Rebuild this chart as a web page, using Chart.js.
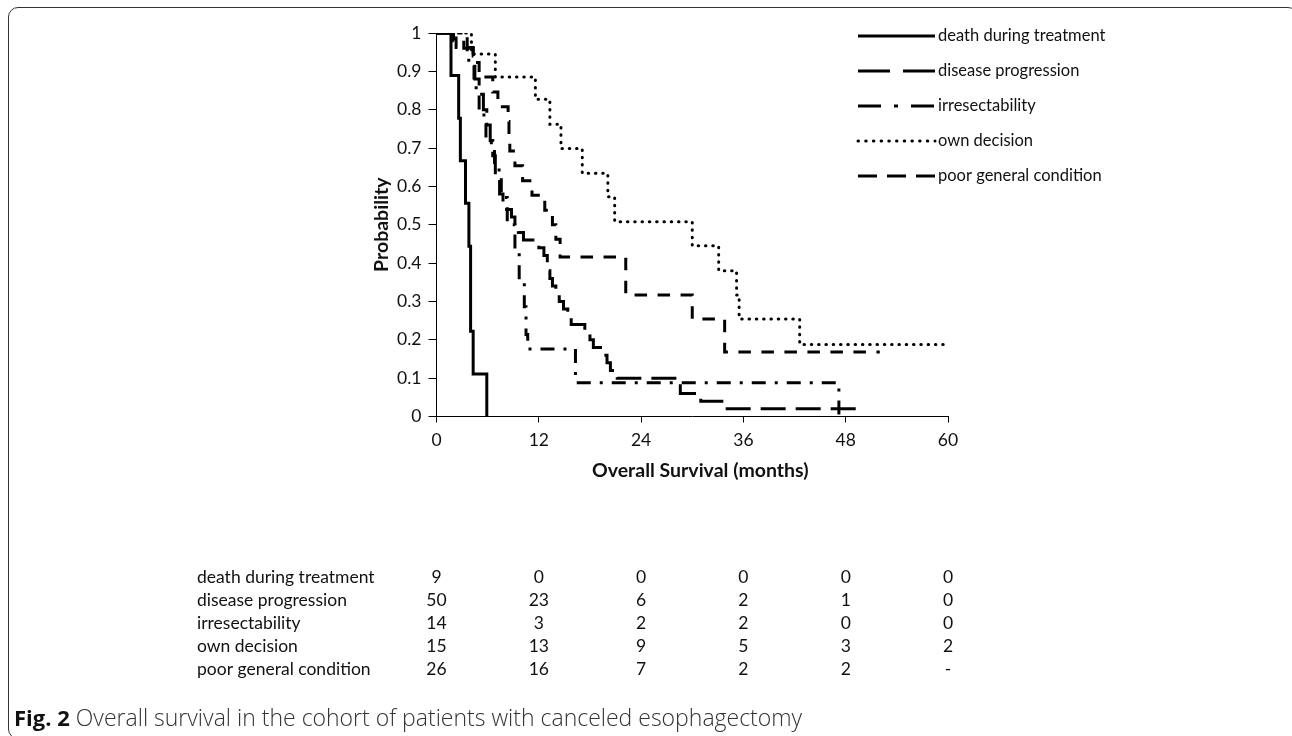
<!DOCTYPE html>
<html>
<head>
<meta charset="utf-8">
<script src="https://cdn.jsdelivr.net/npm/chart.js@4.4.1/dist/chart.umd.min.js"></script>
<style>
  html, body { margin: 0; padding: 0; background: #fff; }
  #wrap { position: relative; width: 1292px; height: 736px; overflow: hidden; }
  #frame { position: absolute; left: 8px; top: 7px; width: 1290px; height: 732px; border: 1.5px solid #333; border-radius: 10px; box-sizing: border-box; pointer-events: none; }
  #caption { position: absolute; left: 14px; top: 701px; font: 300 23px "Open Sans", sans-serif; color: #333; white-space: nowrap; }
  #caption b { color: #111; font-weight: 700; font-size: 22px; }
</style>
</head>
<body>
<div id="wrap">
  <canvas id="km" width="1292" height="736"></canvas>
  <div id="frame"></div>
  <div id="caption"><b>Fig. 2</b> Overall survival in the cohort of patients with canceled esophagectomy</div>
</div>
<script>
// x ticks (months) and the columns of the number-at-risk table
const timeTicks = [0, 12, 24, 36, 48, 60];

const seriesNames = [
  "death during treatment",
  "disease progression",
  "irresectability",
  "own decision",
  "poor general condition",
];

// Kaplan-Meier steps: time (months) / survival after the step
const deathT = [0, 1.7, 2.6, 2.8, 3.4, 3.8, 4.0, 4.3, 5.9];
const deathS = [1, 0.889, 0.778, 0.667, 0.556, 0.444, 0.222, 0.111, 0];

const progT = [0, 2.0, 3.2, 4.3, 4.5, 5.0, 5.5, 5.9, 6.3, 6.6, 6.9, 7.4, 7.8, 8.8, 9.2, 9.6, 10.2, 12.0, 12.6, 13.0, 13.3, 13.6, 14.0, 14.4, 14.9, 15.4, 15.8, 17.4, 18.0, 18.4, 19.5, 20.0, 20.4, 21.2, 28.6, 31.0, 33.7, 49.0];
const progS = [1, 0.98, 0.96, 0.94, 0.88, 0.84, 0.80, 0.76, 0.72, 0.68, 0.62, 0.58, 0.54, 0.52, 0.50, 0.48, 0.46, 0.44, 0.42, 0.38, 0.36, 0.34, 0.32, 0.30, 0.28, 0.26, 0.24, 0.22, 0.20, 0.18, 0.16, 0.14, 0.12, 0.10, 0.06, 0.04, 0.02, 0];

const irresT = [0, 3.6, 4.4, 5.0, 5.8, 6.8, 7.6, 8.3, 9.2, 9.7, 10.3, 10.5, 10.7, 16.3, 47.2];
const irresS = [1, 0.929, 0.857, 0.786, 0.714, 0.643, 0.571, 0.5, 0.429, 0.357, 0.286, 0.214, 0.176, 0.088, 0];

const ownT = [0, 4.1, 6.9, 11.6, 13.3, 14.6, 17.1, 20.1, 20.9, 30.0, 33.1, 35.2, 35.5, 42.6, 60];
const ownS = [1, 0.945, 0.885, 0.827, 0.762, 0.699, 0.634, 0.573, 0.508, 0.445, 0.380, 0.317, 0.254, 0.188, 0.188];

const poorT = [0, 2.3, 4.3, 5.0, 6.6, 7.2, 8.4, 8.5, 8.6, 9.2, 10.1, 11.2, 12.7, 13.6, 14.0, 14.5, 22.2, 30.0, 33.8, 52];
const poorS = [1, 0.962, 0.923, 0.885, 0.846, 0.808, 0.769, 0.731, 0.692, 0.654, 0.615, 0.577, 0.538, 0.5, 0.462, 0.416, 0.317, 0.254, 0.168, 0.168];

// number at risk at 0, 12, 24, 36, 48, 60 months
const riskDeath = [9, 0, 0, 0, 0, 0];
const riskProg = [50, 23, 6, 2, 1, 0];
const riskIrres = [14, 3, 2, 2, 0, 0];
const riskOwn = [15, 13, 9, 5, 3, 2];
const riskPoor = [26, 16, 7, 2, 2, "-"];

const xTitle = "Overall Survival (months)";
const yTitle = "Probability";

const FONT = "Lato, 'Open Sans', sans-serif";
const INK = "#111";

function curve(ts, ss) {
  return ts.map((t, i) => ({ x: t, y: ss[i] }));
}

// plot dash pattern + a legend pattern that fits the short legend sample
const lineStyles = [
  { borderDash: [], legendDash: [], borderWidth: 3 },
  { borderDash: [25, 10], legendDash: [32, 13], borderWidth: 3 },
  { borderDash: [14, 9, 3, 9], legendDash: [23, 13, 4, 13], borderWidth: 3 },
  { borderDash: [0.5, 6.8], legendDash: [0.5, 7.2], borderWidth: 3, borderCapStyle: "round" },
  { borderDash: [12.5, 10.5], legendDash: [19, 10], borderWidth: 3 },
];

const curves = [
  curve(deathT, deathS),
  curve(progT, progS),
  curve(irresT, irresS),
  curve(ownT, ownS),
  curve(poorT, poorS),
];

const datasets = curves.map((data, i) => ({
  label: seriesNames[i],
  data,
  borderColor: "#000",
  borderCapStyle: "butt",
  ...lineStyles[i],
  stepped: true,
  pointRadius: 0,
  fill: false,
}));

// legend drawn inside the plot, top right
const kmLegend = {
  id: "kmLegend",
  afterDraw(chart) {
    const { ctx, chartArea } = chart;
    ctx.save();
    ctx.font = "16.5px " + FONT;
    ctx.textBaseline = "middle";
    ctx.textAlign = "left";
    ctx.fillStyle = INK;
    chart.data.datasets.forEach((ds, i) => {
      const y = chartArea.top + 3 + i * 35;
      const x0 = chartArea.right - 90;
      const x1 = chartArea.right - 13;
      ctx.strokeStyle = ds.borderColor;
      ctx.lineWidth = ds.borderWidth;
      ctx.lineCap = ds.borderCapStyle || "butt";
      ctx.setLineDash(ds.legendDash);
      ctx.beginPath();
      ctx.moveTo(x0, y);
      ctx.lineTo(x1, y);
      ctx.stroke();
      ctx.fillText(ds.label, x1 + 3, y);
    });
    ctx.restore();
  },
};

// x axis title sits a little right of the axis centre in the original
const xAxisTitle = {
  id: "xAxisTitle",
  afterDraw(chart) {
    const { ctx, chartArea } = chart;
    ctx.save();
    ctx.font = "bold 19.5px " + FONT;
    ctx.fillStyle = INK;
    ctx.textAlign = "center";
    ctx.textBaseline = "middle";
    ctx.fillText(xTitle, (chartArea.left + chartArea.right) / 2 + 8, chartArea.bottom + 54);
    ctx.restore();
  },
};

// number-at-risk table under the plot, columns aligned to the x ticks
const riskRows = [riskDeath, riskProg, riskIrres, riskOwn, riskPoor];
const riskTable = {
  id: "riskTable",
  afterDraw(chart) {
    const { ctx } = chart;
    const x = chart.scales.x;
    ctx.save();
    ctx.font = "17.5px " + FONT;
    ctx.fillStyle = INK;
    ctx.textBaseline = "middle";
    riskRows.forEach((row, r) => {
      const y = 577 + r * 23;
      ctx.textAlign = "left";
      ctx.fillText(seriesNames[r], 197, y);
      ctx.textAlign = "center";
      row.forEach((n, c) => ctx.fillText(String(n), x.getPixelForValue(timeTicks[c]), y));
    });
    ctx.restore();
  },
};

new Chart(document.getElementById("km"), {
  type: "line",
  data: { datasets },
  plugins: [kmLegend, xAxisTitle, riskTable],
  options: {
    responsive: false,
    animation: false,
    layout: { padding: { left: 366.5, top: 33, right: 344, bottom: 253.5 } },
    plugins: {
      legend: { display: false },
      tooltip: { enabled: false },
    },
    scales: {
      x: {
        type: "linear",
        min: 0,
        max: 60,
        afterBuildTicks: (s) => {
          s.ticks = timeTicks.map((v) => ({ value: v }));
        },
        afterFit: (s) => {
          s.height = 66;
        },
        ticks: { color: INK, font: { family: FONT, size: 17.5 }, padding: 7, maxRotation: 0 },
        grid: { drawOnChartArea: false, tickLength: 6, color: "#000" },
        border: { color: "#000", width: 1 },
        title: { display: false },
      },
      y: {
        min: 0,
        max: 1,
        afterFit: (s) => {
          s.width = 70;
        },
        ticks: {
          stepSize: 0.1,
          color: INK,
          font: { family: FONT, size: 17.5 },
          padding: 7,
          callback: (v) => String(Math.round(v * 10) / 10),
        },
        grid: { drawOnChartArea: false, tickLength: 8, color: "#000" },
        border: { color: "#000", width: 1 },
        title: {
          display: true,
          text: yTitle,
          color: INK,
          font: { family: FONT, size: 19.5, weight: "bold" },
          padding: { top: 4, bottom: 0 },
        },
      },
    },
  },
});
</script>
</body>
</html>
